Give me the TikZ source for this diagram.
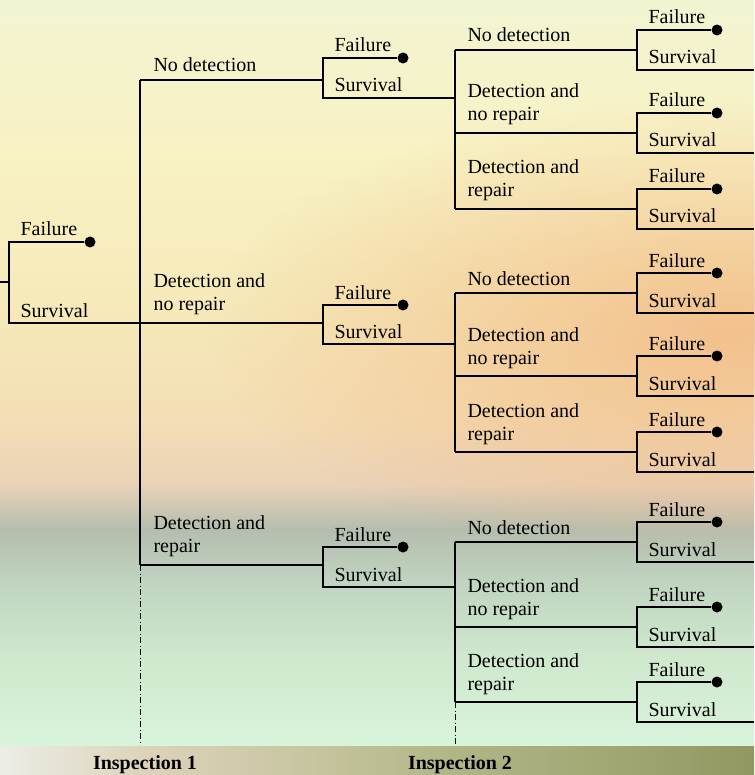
\documentclass[tikz,border=0pt]{standalone}
\usepackage{fontspec}
\setmainfont{Liberation Serif}
\usetikzlibrary{positioning,fadings}

\definecolor{bgA}{HTML}{D8F4DA}
\definecolor{bgB}{HTML}{CFE8CE}
\definecolor{bgC}{HTML}{C0D4C0}
\definecolor{bgD}{HTML}{B4BEAE}
\definecolor{bgE}{HTML}{D2C8B4}
\definecolor{bgF}{HTML}{EAD2B8}
\definecolor{bgG}{HTML}{F4DEB4}
\definecolor{bgH}{HTML}{F6EABA}
\definecolor{bgI}{HTML}{F8F2C4}
\definecolor{bgJ}{HTML}{F2F4D2}
\definecolor{peach}{HTML}{F2B47E}
\definecolor{gdA}{HTML}{ECEDE6}
\definecolor{gdB}{HTML}{DCD2B8}
\definecolor{gdC}{HTML}{C8C6A2}
\definecolor{gdD}{HTML}{B2B686}
\definecolor{gdE}{HTML}{929862}

\pgfdeclareverticalshading{sky}{100bp}{color(0bp)=(bgA); color(25bp)=(bgA);
  color(31bp)=(bgB); color(36bp)=(bgC); color(39.5bp)=(bgD); color(41.2bp)=(bgE);
  color(42.5bp)=(bgF); color(47bp)=(bgG); color(55bp)=(bgH); color(65bp)=(bgI);
  color(75bp)=(bgJ); color(100bp)=(bgJ)}
\pgfdeclarehorizontalshading{ground}{100bp}{color(0bp)=(gdA); color(25bp)=(gdA);
  color(35bp)=(gdB); color(45bp)=(gdC); color(55bp)=(gdD); color(75bp)=(gdE);
  color(100bp)=(gdE)}
\tikzfading[name=glow, inner color=transparent!0, outer color=transparent!100]

\begin{document}
\begin{tikzpicture}[x=1pt, y=-1pt, line width=1.1pt,
  lbl/.style={anchor=base west, inner sep=0pt, align=left, font=\fontsize{20}{23}\selectfont},
  head/.style={anchor=base, inner sep=0pt, font=\fontsize{20}{23}\selectfont\bfseries},
  dot/.style={circle, fill, inner sep=0pt, minimum size=11pt},
  insp/.style={line width=0.9pt, dash pattern=on 6pt off 2.5pt on 1pt off 2.5pt}]

\useasboundingbox (0,0) rectangle (754,775);
\shade[shading=sky] (0,0) rectangle (754,746);
\fill[peach, path fading=glow, fill opacity=0.75] (730,330) ellipse (520 and 230);
\shade[shading=ground] (0,746) rectangle (754,775);

% first period
\coordinate (r0) at (0,282);
\coordinate (r) at (9,282);
\node[dot] (rd) at (90,242) {};
\node[lbl] (rfail) at (20,236) {Failure};
\node[lbl] (rsurv) at (20,317) {Survival};

% inspection 1
\foreach \i/\y in {1/80, 2/323, 3/565}
  \coordinate (a\i) at (140,\y);
\coordinate (a0) at (140,745);

\draw (r0) -- (r) |- (rd);
\draw (r) |- (a2);
\draw (a1) -- (a3);
\draw[insp] (a3) -- (a0);

\foreach \i/\y/\f/\s/\o/\txt in {1/80/58/98/8/{No detection},
    2/323/305/344/13/{Detection and\\no repair}, 3/565/547/587/13/{Detection and\\repair}} {
  \coordinate (c\i) at (323,\y);
  \node[dot] (d\i) at (403,\f) {};
  \coordinate (b\i) at (455,\s);
  \draw (a\i) -- (c\i) |- (d\i);
  \draw (c\i) |- (b\i);
  \node[lbl] (t\i) at (153,\y-\o) {\txt};
  \node[lbl] (f\i) at (334,\f-6) {Failure};
  \node[lbl] (s\i) at (334,\s-6) {Survival};
}

% inspection 2
\foreach \i/\p/\q/\r in {1/50/133/209, 2/293/376/452, 3/542/627/702} {
  \foreach \j/\n/\o/\txt in {1/\p/8/{No detection},
      2/\q/12/{Detection and\\no repair}, 3/\r/12/{Detection and\\repair}} {
    \coordinate (g\i\j) at (455,\n);
    \coordinate (e\i\j) at (637,\n);
    \node[dot] (x\i\j) at (717,\n-20) {};
    \coordinate (z\i\j) at (754,\n+20);
    \draw (g\i\j) -- (e\i\j) |- (x\i\j);
    \draw (e\i\j) |- (z\i\j);
    \node[lbl] (u\i\j) at (467,\n-\o) {\txt};
    \node[lbl] (v\i\j) at (648,\n-26) {Failure};
    \node[lbl] (w\i\j) at (648,\n+14) {Survival};
  }
  \draw (g\i1) -- (g\i3);
}
\coordinate (g0) at (455,745);
\draw[insp] (g33) -- (g0);

\node[head] (h1) at (145,769) {Inspection 1};
\node[head] (h2) at (460,769) {Inspection 2};

\end{tikzpicture}
\end{document}
